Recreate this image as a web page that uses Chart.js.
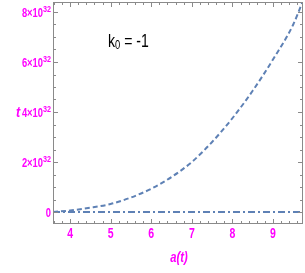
<!DOCTYPE html>
<html lang="en">
  <head>
    <meta charset="UTF-8" />
    <title>t vs a(t)</title>
    <script src="https://cdn.jsdelivr.net/npm/chart.js"></script>
    <style>
      html, body { margin: 0; padding: 0; background: #fff; }
    </style>
  </head>
  <body>
    <canvas id="my-chart" width="305" height="273"></canvas>

    <script>
      // values (y in units of 1e32)
      const aValues = [3.58, 4, 4.5, 5, 5.5, 6, 6.5, 7, 7.5, 8, 8.5, 9, 9.5, 9.74];
      const tValues = [0, 0.06, 0.17, 0.32, 0.58, 0.93, 1.4, 2.0, 2.8, 3.75, 4.85, 6.1, 7.5, 8.45];
      const zeroA = [3.58, 9.74];
      const zeroT = [0, 0];
      const yTicks = [0, 2, 4, 6, 8];
      const yTickMain = ["0", "2×10", "4×10", "6×10", "8×10"];
      const yTickExp = ["", "32", "32", "32", "32"];
      const xTicks = [4, 5, 6, 7, 8, 9];
      const xTitle = "a(t)";
      const yTitle = "t";
      const annotation = { main: "k", sub: "0", rest: " = -1" };

      const E = 1e32;
      const pink = "#ff00ff";
      const lineColor = "#5e81b5";
      const fam = "'Liberation Sans', Arial, sans-serif";

      const curve = aValues.map((a, i) => ({ x: a, y: tValues[i] * E }));
      const zeroLine = zeroA.map((a, i) => ({ x: a, y: zeroT[i] * E }));

      // narrow text: horizontally squeezed fillText
      function narrowWidth(ctx, text, font, sx) {
        ctx.font = font;
        return ctx.measureText(text).width * sx;
      }
      function narrowText(ctx, text, x, y, font, sx, align) {
        ctx.save();
        ctx.font = font;
        ctx.translate(x, y);
        ctx.scale(sx, 1);
        ctx.textAlign = align || "left";
        ctx.fillText(text, 0, 0);
        ctx.restore();
      }

      // frame with inward ticks on all four sides, tick labels and titles
      const framePlugin = {
        id: "frame",
        afterDraw(chart) {
          const { ctx, chartArea: ca, scales } = chart;
          const xs = scales.x, ys = scales.y;
          ctx.save();
          ctx.strokeStyle = "#8a8a8a";
          ctx.lineWidth = 1;
          ctx.strokeRect(ca.left + 0.5, ca.top + 0.5, ca.right - ca.left - 1, ca.bottom - ca.top - 1);

          ctx.beginPath();
          for (let v = 3.6; v < 9.75; v += 0.2) {
            const major = Math.abs(v - Math.round(v)) < 0.01;
            const len = major ? 5 : 3;
            const px = Math.round(xs.getPixelForValue(v)) + 0.5;
            ctx.moveTo(px, ca.bottom); ctx.lineTo(px, ca.bottom - len);
            ctx.moveTo(px, ca.top); ctx.lineTo(px, ca.top + len);
          }
          for (let v = 0; v <= 8.01; v += 0.5) {
            const major = Math.abs(v / 2 - Math.round(v / 2)) < 0.01;
            const len = major ? 5 : 3;
            const py = Math.round(ys.getPixelForValue(v * E)) + 0.5;
            ctx.moveTo(ca.left, py); ctx.lineTo(ca.left + len, py);
            ctx.moveTo(ca.right, py); ctx.lineTo(ca.right - len, py);
          }
          ctx.stroke();

          ctx.fillStyle = pink;
          ctx.textBaseline = "alphabetic";

          // x tick labels
          xs.ticks.forEach((t) => {
            narrowText(ctx, String(t.value), xs.getPixelForValue(t.value), 238, "bold 14px " + fam, 0.75, "center");
          });

          // y tick labels with superscript exponent
          ys.ticks.forEach((t, i) => {
            const py = ys.getPixelForValue(t.value) + 5;
            const right = ca.left - 2;
            const expFont = "bold 9px " + fam;
            const mainFont = "bold 13px " + fam;
            const ew = yTickExp[i] ? narrowWidth(ctx, yTickExp[i], expFont, 0.8) : 0;
            if (yTickExp[i]) narrowText(ctx, yTickExp[i], right - ew, py - 5, expFont, 0.8, "left");
            narrowText(ctx, yTickMain[i], right - ew, py, mainFont, 0.72, "right");
          });

          // axis titles
          narrowText(ctx, xTitle, (ca.left + ca.right) / 2 + 1, 262, "italic bold 14px " + fam, 0.8, "center");
          narrowText(ctx, yTitle, 18, ys.getPixelForValue(4 * E) + 5, "italic bold 14px " + fam, 0.9, "center");

          // k0 = -1
          ctx.fillStyle = "#000";
          let x = 108;
          const y = 47;
          const f = "18px " + fam, fs = "12px " + fam;
          narrowText(ctx, annotation.main, x, y, f, 0.78);
          x += narrowWidth(ctx, annotation.main, f, 0.78);
          narrowText(ctx, annotation.sub, x, y + 2, fs, 0.78);
          x += narrowWidth(ctx, annotation.sub, fs, 0.78);
          narrowText(ctx, annotation.rest, x, y, f, 0.78);
          ctx.restore();
        },
      };

      const ctx = document.getElementById("my-chart").getContext("2d");
      new Chart(ctx, {
        type: "scatter",
        data: {
          datasets: [
            {
              data: curve,
              showLine: true,
              borderColor: lineColor,
              borderWidth: 2,
              borderDash: [5, 3],
              pointRadius: 0,
              cubicInterpolationMode: "monotone",
              fill: false,
            },
            {
              data: zeroLine,
              showLine: true,
              borderColor: lineColor,
              borderWidth: 2,
              borderDash: [7, 3, 2, 3],
              pointRadius: 0,
              fill: false,
            },
          ],
        },
        options: {
          responsive: false,
          animation: false,
          layout: { padding: { left: 0, right: 2, top: 2, bottom: 0 } },
          plugins: { legend: { display: false }, tooltip: { enabled: false } },
          scales: {
            x: {
              type: "linear",
              min: 3.58,
              max: 9.74,
              afterFit: (s) => { s.height = 49; },
              afterBuildTicks: (s) => { s.ticks = xTicks.map((v) => ({ value: v })); },
              grid: { display: false, drawTicks: false },
              border: { display: false },
              ticks: { display: false },
            },
            y: {
              type: "linear",
              min: -0.48 * E,
              max: 8.4 * E,
              afterFit: (s) => { s.width = 53; },
              afterBuildTicks: (s) => { s.ticks = yTicks.map((v) => ({ value: v * E })); },
              grid: { display: false, drawTicks: false },
              border: { display: false },
              ticks: { display: false },
            },
          },
        },
        plugins: [framePlugin],
      });
    </script>
  </body>
</html>
